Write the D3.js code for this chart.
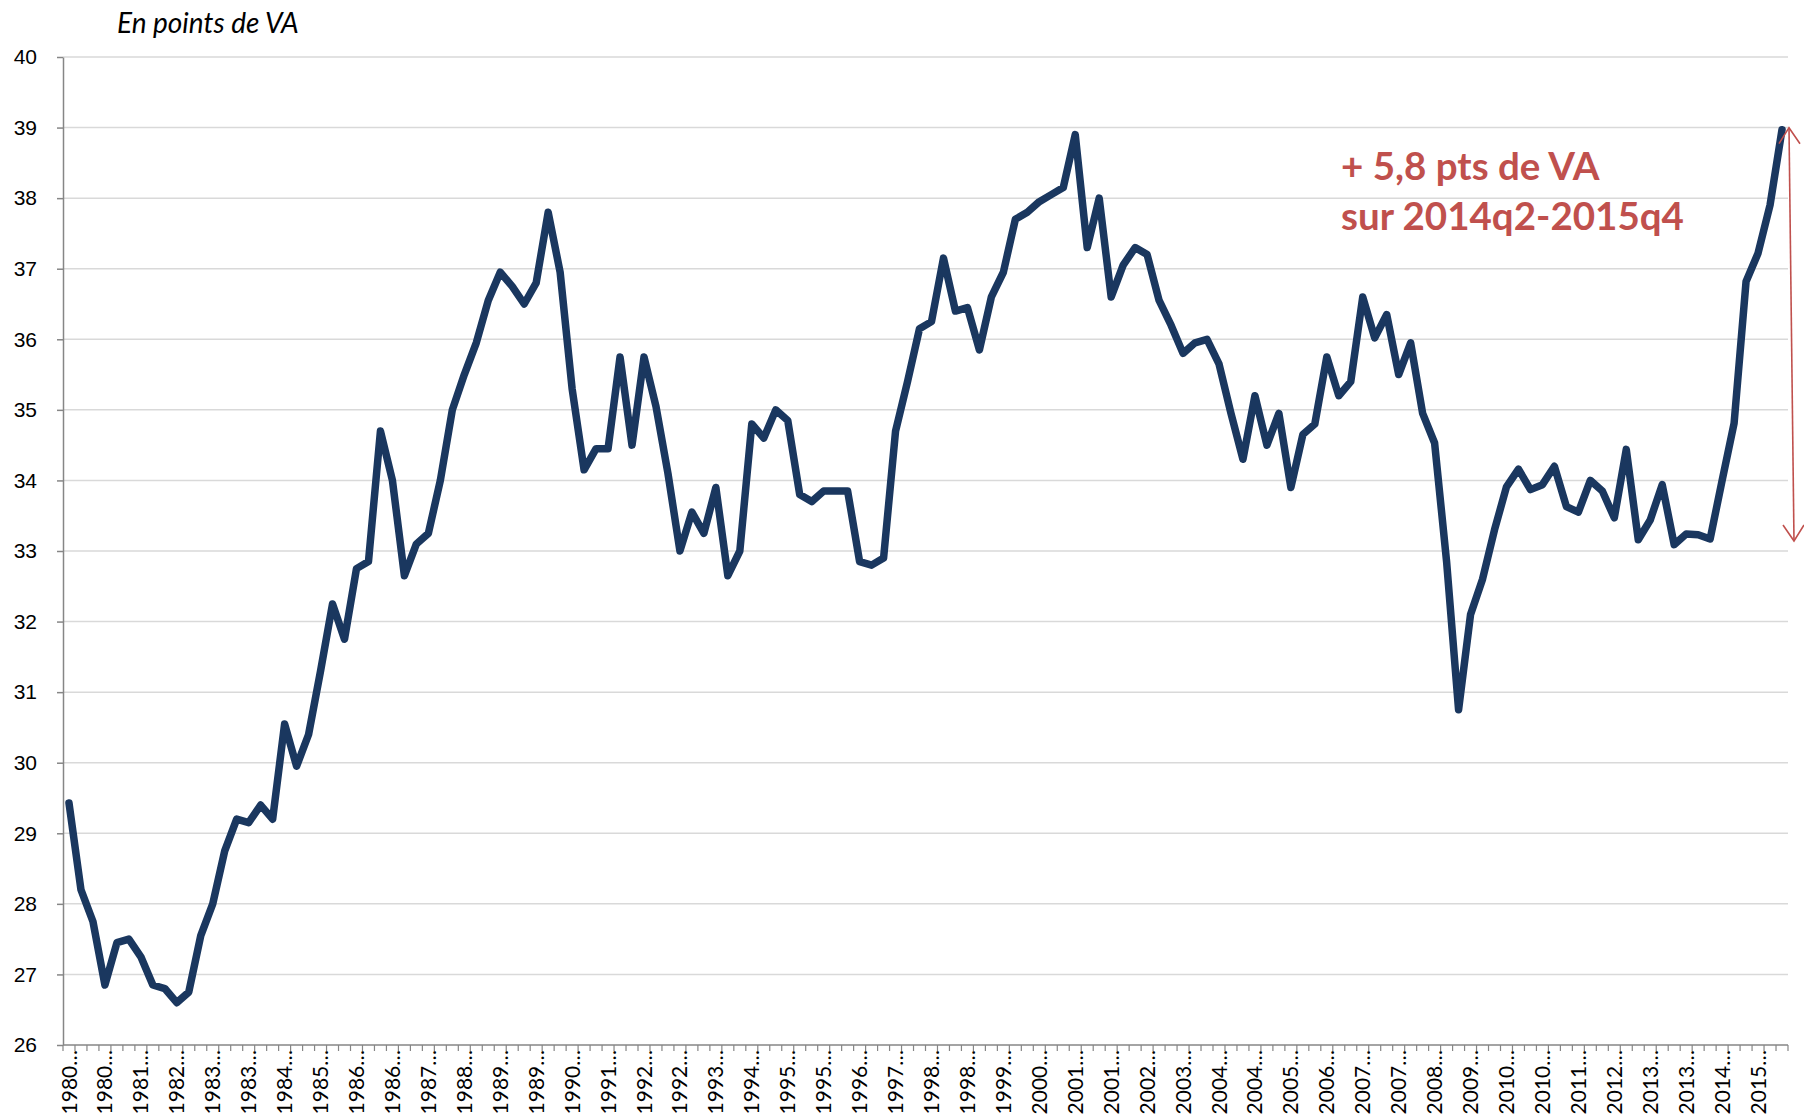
<!DOCTYPE html>
<html lang="fr">
<head>
<meta charset="utf-8">
<title>En points de VA</title>
<script src="https://cdn.jsdelivr.net/npm/d3@7.9.0/dist/d3.min.js"></script>
<style>
  html, body { margin: 0; padding: 0; background: #fff; }
  svg { display: block; font-family: Lato, "Noto Sans", sans-serif; }
</style>
</head>
<body>
<div id="chart"></div>
<script>
// quarterly series, 1980q1 .. 2015q4 (4 values per year)
const years = [1980, 1981, 1982, 1983, 1984, 1985, 1986, 1987, 1988, 1989,
  1990, 1991, 1992, 1993, 1994, 1995, 1996, 1997, 1998, 1999,
  2000, 2001, 2002, 2003, 2004, 2005, 2006, 2007, 2008, 2009,
  2010, 2011, 2012, 2013, 2014, 2015];
const quarterNames = ['q1', 'q2', 'q3', 'q4'];

const values = [
  29.43, 28.20, 27.75, 26.85,  // 1980
  27.45, 27.50, 27.25, 26.85,  // 1981
  26.80, 26.60, 26.75, 27.55,  // 1982
  28.00, 28.75, 29.20, 29.15,  // 1983
  29.40, 29.20, 30.55, 29.95,  // 1984
  30.40, 31.30, 32.25, 31.75,  // 1985
  32.75, 32.85, 34.70, 34.00,  // 1986
  32.65, 33.10, 33.25, 34.00,  // 1987
  35.00, 35.50, 35.95, 36.55,  // 1988
  36.95, 36.75, 36.50, 36.80,  // 1989
  37.80, 36.95, 35.30, 34.15,  // 1990
  34.45, 34.45, 35.75, 34.50,  // 1991
  35.75, 35.05, 34.10, 33.00,  // 1992
  33.55, 33.25, 33.90, 32.65,  // 1993
  33.00, 34.80, 34.60, 35.00,  // 1994
  34.85, 33.80, 33.70, 33.85,  // 1995
  33.85, 33.85, 32.85, 32.80,  // 1996
  32.90, 34.70, 35.40, 36.15,  // 1997
  36.25, 37.15, 36.40, 36.45,  // 1998
  35.85, 36.60, 36.95, 37.70,  // 1999
  37.80, 37.95, 38.05, 38.15,  // 2000
  38.90, 37.30, 38.00, 36.60,  // 2001
  37.05, 37.30, 37.20, 36.55,  // 2002
  36.20, 35.80, 35.95, 36.00,  // 2003
  35.65, 34.95, 34.30, 35.20,  // 2004
  34.50, 34.95, 33.90, 34.65,  // 2005
  34.80, 35.75, 35.20, 35.40,  // 2006
  36.60, 36.02, 36.35, 35.50,  // 2007
  35.95, 34.95, 34.53, 32.85,  // 2008
  30.75, 32.10, 32.60, 33.30,  // 2009
  33.91, 34.16, 33.87, 33.94,  // 2010
  34.20, 33.63, 33.55, 34.00,  // 2011
  33.85, 33.47, 34.44, 33.16,  // 2012
  33.44, 33.94, 33.09, 33.24,  // 2013
  33.23, 33.17, 34.00, 34.81,  // 2014
  36.82, 37.22, 37.90, 38.97   // 2015
];

const yTicks = [26, 27, 28, 29, 30, 31, 32, 33, 34, 35, 36, 37, 38, 39, 40];
const unitLabel = 'En points de VA';
const noteLines = ['+ 5,8 pts de VA', 'sur 2014q2-2015q4'];
const noteFrom = '2014q2';
const noteTo = '2015q4';
const labelEvery = 3;

const quarters = years.flatMap(y => quarterNames.map(q => `${y}${q}`));
const data = quarters.map((q, i) => ({ q, v: values[i] }));

const width = 1804;
const height = 1117;
const plot = { left: 63, right: 1788, top: 57, bottom: 1045 };

const svg = d3.select('#chart')
  .append('svg')
  .attr('width', width)
  .attr('height', height)
  .attr('viewBox', `0 0 ${width} ${height}`);

const x = d3.scaleBand()
  .domain(quarters)
  .range([plot.left, plot.right]);

const y = d3.scaleLinear()
  .domain([26, 40])
  .range([plot.bottom, plot.top]);

const cx = q => x(q) + x.bandwidth() / 2;

// horizontal gridlines
svg.append('g')
  .attr('class', 'grid')
  .selectAll('line')
  .data(yTicks.filter(t => t > 26))
  .join('line')
  .attr('x1', plot.left)
  .attr('x2', plot.right)
  .attr('y1', d => y(d))
  .attr('y2', d => y(d))
  .attr('stroke', '#d9d9d9')
  .attr('stroke-width', 1.5);

// y axis
const yAxis = svg.append('g')
  .attr('class', 'y-axis')
  .attr('transform', `translate(${plot.left},0)`)
  .call(d3.axisLeft(y).tickValues(yTicks).tickSize(6).tickPadding(20).tickSizeOuter(0));

yAxis.select('.domain').attr('stroke', '#868686').attr('stroke-width', 1.5);
yAxis.selectAll('.tick line').attr('stroke', '#868686').attr('stroke-width', 1.5);
yAxis.selectAll('.tick text')
  .attr('fill', '#000')
  .style('font-size', '21px');

// x axis: ticks between every quarter, labels every third quarter
const xAxis = svg.append('g').attr('class', 'x-axis');

xAxis.append('line')
  .attr('x1', plot.left)
  .attr('x2', plot.right)
  .attr('y1', plot.bottom)
  .attr('y2', plot.bottom)
  .attr('stroke', '#868686')
  .attr('stroke-width', 1.5);

xAxis.selectAll('line.tick')
  .data(quarters.map(q => x(q)).concat([plot.right]))
  .join('line')
  .attr('class', 'tick')
  .attr('x1', d => d)
  .attr('x2', d => d)
  .attr('y1', plot.bottom)
  .attr('y2', plot.bottom + 6)
  .attr('stroke', '#868686')
  .attr('stroke-width', 1.2);

xAxis.selectAll('text')
  .data(quarters.filter((q, i) => i % labelEvery === 0))
  .join('text')
  .attr('transform', d => `translate(${cx(d)},${plot.bottom + 5}) rotate(-90)`)
  .attr('dy', '0.36em')
  .attr('text-anchor', 'end')
  .attr('fill', '#000')
  .style('font-size', '21px')
  .text(d => d.slice(0, 4) + '\u2026');

// series
const line = d3.line()
  .x(d => cx(d.q))
  .y(d => y(d.v));

svg.append('path')
  .datum(data)
  .attr('fill', 'none')
  .attr('stroke', '#1a375f')
  .attr('stroke-width', 7.5)
  .attr('stroke-linejoin', 'round')
  .attr('stroke-linecap', 'round')
  .attr('d', line);

// unit label
svg.append('text')
  .attr('x', 117)
  .attr('y', 33)
  .attr('fill', '#000')
  .style('font-size', '28px')
  .style('font-style', 'italic')
  .text(unitLabel);

// annotation
const red = '#c0504d';
svg.append('text')
  .attr('x', 1341)
  .attr('y', 180)
  .attr('fill', red)
  .style('font-size', '38.5px')
  .style('font-weight', 'bold')
  .selectAll('tspan')
  .data(noteLines)
  .join('tspan')
  .attr('x', 1341)
  .attr('dy', (d, i) => i === 0 ? 0 : 50)
  .text(d => d);

const vFrom = values[quarters.indexOf(noteFrom)];
const vTo = values[quarters.indexOf(noteTo)];
const ax1 = plot.right + 1, ay1 = y(vTo) - 2;
const ax2 = plot.right + 6, ay2 = y(vFrom) + 2;
const arrow = svg.append('g')
  .attr('stroke', red)
  .attr('stroke-width', 1.6)
  .attr('fill', 'none');

arrow.append('line')
  .attr('x1', ax1).attr('y1', ay1)
  .attr('x2', ax2).attr('y2', ay2);

arrow.append('path')
  .attr('d', `M${ax1 - 10},${ay1 + 16} L${ax1},${ay1} L${ax1 + 11},${ay1 + 16}`);
arrow.append('path')
  .attr('d', `M${ax2 - 11},${ay2 - 16} L${ax2},${ay2} L${ax2 + 10},${ay2 - 16}`);
</script>
</body>
</html>
